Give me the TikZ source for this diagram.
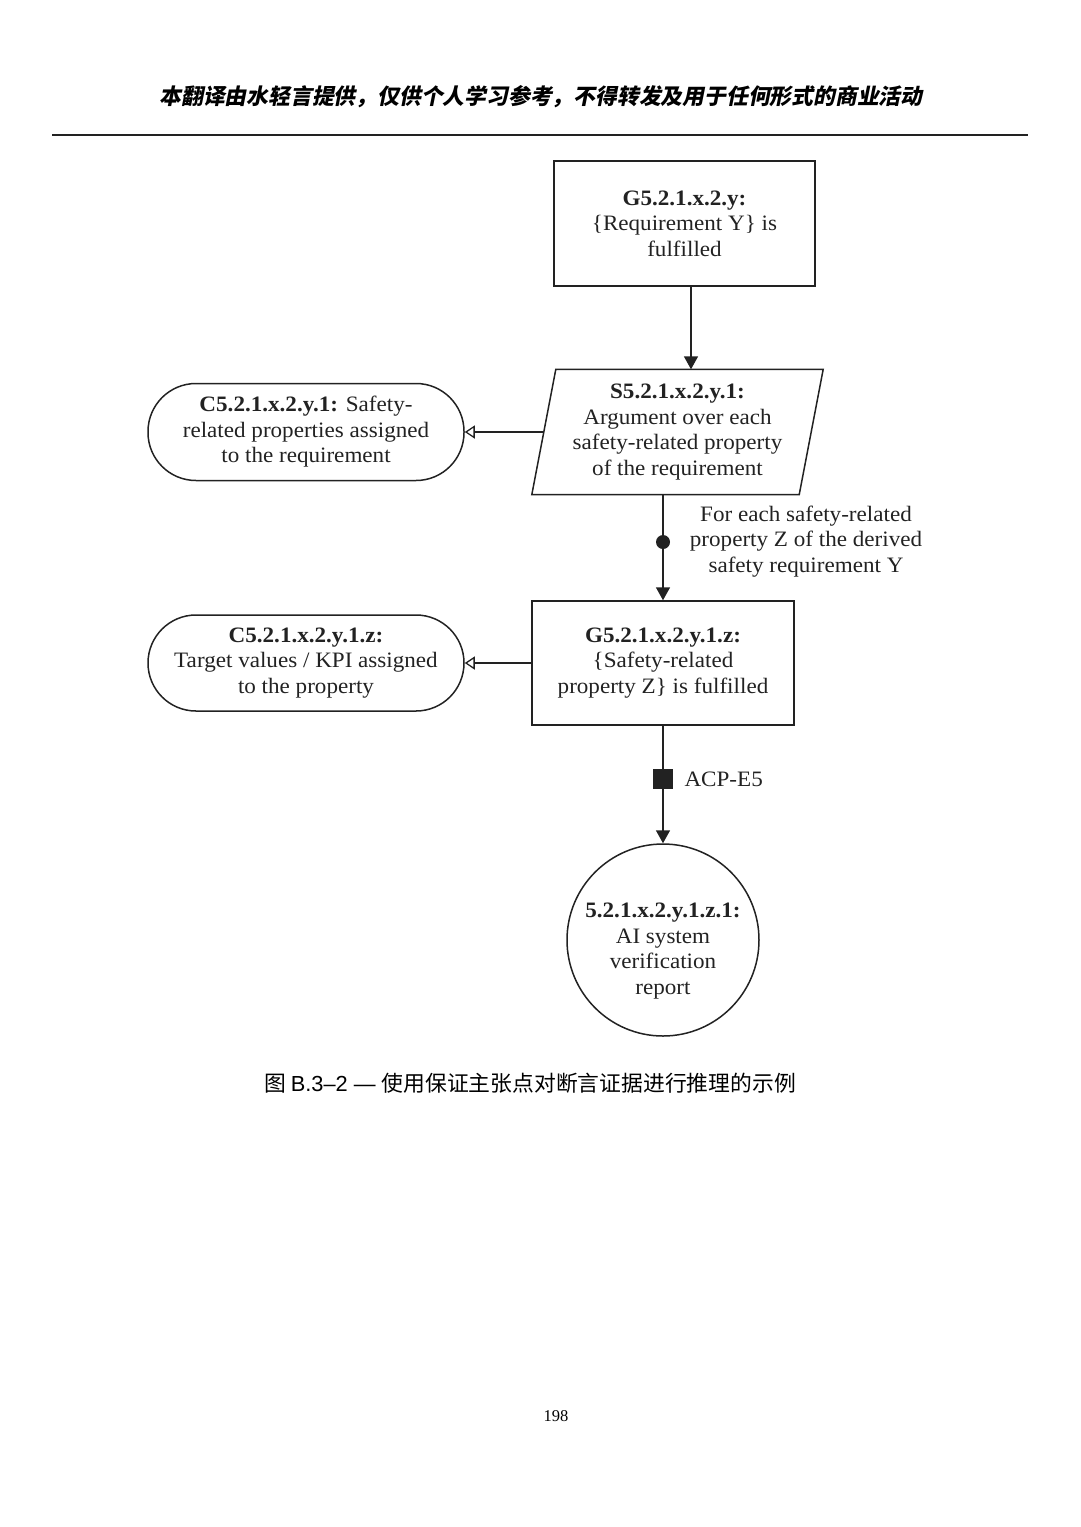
\documentclass[tikz,border=0pt]{standalone}
\usepackage{fontspec}
\setmainfont{Liberation Serif}
\newfontfamily\diagserif[FakeStretch=1.05]{Liberation Serif}
\newfontfamily\cjk{Noto Sans CJK SC}
\newfontfamily\cjkhead[FakeSlant=0.2]{Noto Sans CJK SC}
\newfontfamily\arial{Liberation Sans}
\usetikzlibrary{arrows.meta,calc}
\definecolor{ink}{HTML}{222222}
\tikzset{
  diagfont/.style={font=\diagserif\fontsize{22}{25.5}\selectfont, text=ink, align=center},
  box/.style={diagfont, draw=ink, line width=1.5pt, inner sep=0pt},
  stadium/.style={box, rounded corners=48pt, minimum width=316pt, minimum height=97pt},
  goal/.style={box, minimum width=262pt, minimum height=125pt},
  conn/.style={draw=ink, line width=1.5pt},
  solid arrow/.style={conn, -{Triangle[width=14pt,length=13pt]}},
  ctx arrow/.style={conn, -{Triangle[open,width=13pt,length=10pt,line width=1.3pt]}},
}
\begin{document}
\begin{tikzpicture}[x=1pt,y=-1pt]
\useasboundingbox (0,0) rectangle (1080,1527);
% header
\node (head) at (541,97) {\cjkhead\bfseries\fontsize{21.8}{22}\selectfont 本翻译由水轻言提供，仅供个人学习参考，不得转发及用于任何形式的商业活动};
\coordinate (hl) at (52,135);
\coordinate (hr) at (1028,135);
\draw[line width=2pt, color=ink] (hl) -- (hr);

% top goal
\node[goal, minimum width=261pt] (G) at (684.5,223.5) {\textbf{G5.2.1.x.2.y:}\\\{Requirement Y\} is\\fulfilled};

% strategy (parallelogram)
\node[diagfont, minimum width=267pt, minimum height=125pt, inner sep=0pt] (S) at (677.5,432) {\textbf{S5.2.1.x.2.y.1:}\\Argument over each\\safety-related property\\of the requirement};
\draw[conn, line join=miter] ($(S.north west)+(12,0)$) -- ($(S.north east)+(12,0)$) -- ($(S.south east)+(-12,0)$) -- ($(S.south west)+(-12,0)$) -- cycle;

% context 1
\node[stadium] (C1) at (306,432) {\textbf{C5.2.1.x.2.y.1:} Safety-\\related properties assigned\\to the requirement};

% goal 2
\node[goal, minimum height=124pt] (G2) at (663,663) {\textbf{G5.2.1.x.2.y.1.z:}\\\{Safety-related\\property Z\} is fulfilled};

% context 2
\node[stadium, minimum height=96pt] (C2) at (306,663) {\textbf{C5.2.1.x.2.y.1.z:}\\Target values / KPI assigned\\to the property};

% solution
\node[draw=ink, line width=1.5pt, circle, minimum size=192pt, inner sep=0pt] (E) at (663,940) {};
\node[diagfont] (Et) at (663,951) {\textbf{5.2.1.x.2.y.1.z.1:}\\AI system\\verification\\report};

% connectors
\coordinate (gs) at ($(G.south)+(6.5,0)$);
\draw[solid arrow] (gs) -- (gs |- S.north);
\draw[ctx arrow] (S.west) -- (C1.east);
\draw[solid arrow] (S.south -| G2.north) -- (G2.north);
\node[circle, fill=ink, minimum size=14pt, inner sep=0pt] (dot) at (663,542) {};
\node[diagfont] (mult) at (806,541.5) {For each safety-related\\property Z of the derived\\safety requirement Y};
\draw[ctx arrow] (G2.west) -- (C2.east);
\draw[solid arrow] (G2.south) -- (E.north);
\node[fill=ink, minimum size=20pt, inner sep=0pt] (acp) at (663,779) {};
\node[diagfont, anchor=west] (acplabel) at (681,779) {ACP-E5};

% caption
\node (cap) at (530,1083) {\fontsize{21.8}{22}\selectfont\cjk 图 \arial B.3–2 — \cjk 使用保证主张点对断言证据进行推理的示例};
% page number
\node (page) at (556,1416) {\fontsize{16.5}{16}\selectfont 198};
\end{tikzpicture}
\end{document}
